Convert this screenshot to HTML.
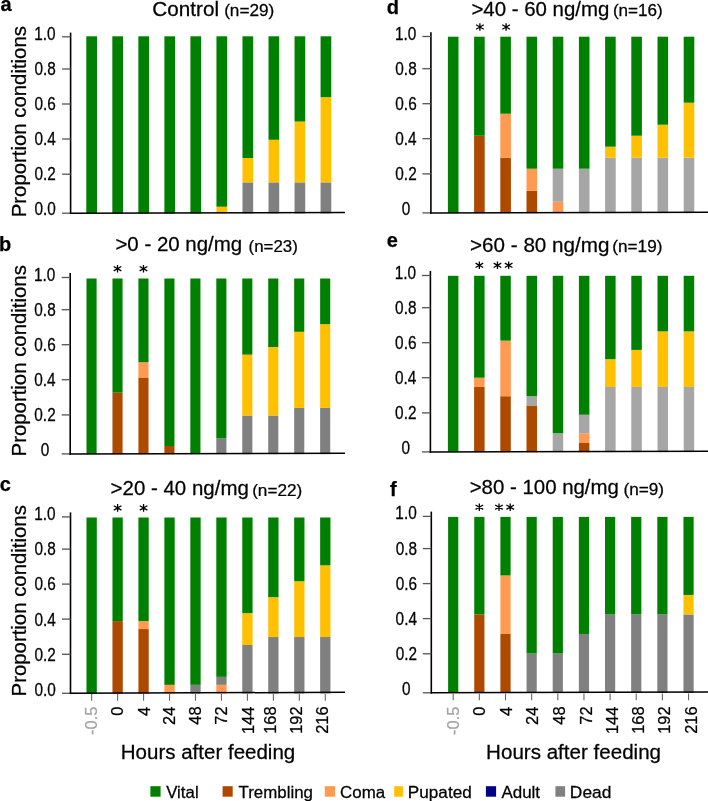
<!DOCTYPE html>
<html><head><meta charset="utf-8"><title>Proportion conditions</title>
<style>
html,body{margin:0;padding:0;background:#fff;}
body{width:708px;height:801px;overflow:hidden;}
svg{display:block;font-family:"Liberation Sans", sans-serif;will-change:transform;}
text{stroke:currentColor;stroke-width:0.25px;}
</style></head>
<body>
<svg width="708" height="801" viewBox="0 0 708 801" fill="#000" color="#000">
<path d="M70.6 32.6V214" stroke="#000" stroke-width="1.6" fill="none"/>
<path d="M62.1 36.8H70.6" stroke="#555" stroke-width="1.3" fill="none"/>
<path d="M62.1 69H70.6" stroke="#555" stroke-width="1.3" fill="none"/>
<path d="M62.1 104H70.6" stroke="#555" stroke-width="1.3" fill="none"/>
<path d="M62.1 139H70.6" stroke="#555" stroke-width="1.3" fill="none"/>
<path d="M62.1 174.2H70.6" stroke="#555" stroke-width="1.3" fill="none"/>
<path d="M62.1 213.2H70.6" stroke="#555" stroke-width="1.3" fill="none"/>
<rect x="86.3" y="36.3" width="10.7" height="177.1" fill="#008000"/>
<rect x="112.33" y="36.3" width="10.7" height="177.1" fill="#008000"/>
<rect x="138.36" y="36.3" width="10.7" height="177.1" fill="#008000"/>
<rect x="164.39" y="36.3" width="10.7" height="177.1" fill="#008000"/>
<rect x="190.42" y="36.3" width="10.7" height="177.1" fill="#008000"/>
<rect x="216.45" y="206.714" width="10.7" height="6.686" fill="#FFC000"/>
<rect x="216.45" y="36.3" width="10.7" height="170.414" fill="#008000"/>
<rect x="242.48" y="182.369" width="10.7" height="31.031" fill="#808080"/>
<rect x="242.48" y="158.024" width="10.7" height="24.345" fill="#FFC000"/>
<rect x="242.48" y="36.3" width="10.7" height="121.724" fill="#008000"/>
<rect x="268.51" y="182.369" width="10.7" height="31.031" fill="#808080"/>
<rect x="268.51" y="139.766" width="10.7" height="42.603" fill="#FFC000"/>
<rect x="268.51" y="36.3" width="10.7" height="103.466" fill="#008000"/>
<rect x="294.54" y="182.369" width="10.7" height="31.031" fill="#808080"/>
<rect x="294.54" y="121.507" width="10.7" height="60.862" fill="#FFC000"/>
<rect x="294.54" y="36.3" width="10.7" height="85.207" fill="#008000"/>
<rect x="320.57" y="182.369" width="10.7" height="31.031" fill="#808080"/>
<rect x="320.57" y="97.162" width="10.7" height="85.207" fill="#FFC000"/>
<rect x="320.57" y="36.3" width="10.7" height="60.862" fill="#008000"/>
<path d="M69.8 213.2L345 212.5" stroke="#000" stroke-width="1.5" fill="none"/>
<path d="M70.2 273.1V454.7" stroke="#000" stroke-width="1.6" fill="none"/>
<path d="M61.7 277.5H70.2" stroke="#555" stroke-width="1.3" fill="none"/>
<path d="M61.7 309.7H70.2" stroke="#555" stroke-width="1.3" fill="none"/>
<path d="M61.7 344.7H70.2" stroke="#555" stroke-width="1.3" fill="none"/>
<path d="M61.7 379.7H70.2" stroke="#555" stroke-width="1.3" fill="none"/>
<path d="M61.7 414.9H70.2" stroke="#555" stroke-width="1.3" fill="none"/>
<path d="M61.7 453.9H70.2" stroke="#555" stroke-width="1.3" fill="none"/>
<rect x="86.5" y="278.5" width="10.1" height="175.6" fill="#008000"/>
<rect x="112.46" y="392.696" width="10.1" height="61.404" fill="#AD4A00"/>
<rect x="112.46" y="278.5" width="10.1" height="114.196" fill="#008000"/>
<rect x="138.42" y="377.47" width="10.1" height="76.63" fill="#AD4A00"/>
<rect x="138.42" y="362.243" width="10.1" height="15.226" fill="#FF9A50"/>
<rect x="138.42" y="278.5" width="10.1" height="83.743" fill="#008000"/>
<rect x="164.38" y="445.987" width="10.1" height="8.113" fill="#AD4A00"/>
<rect x="164.38" y="278.5" width="10.1" height="167.487" fill="#008000"/>
<rect x="190.34" y="278.5" width="10.1" height="175.6" fill="#008000"/>
<rect x="216.3" y="438.374" width="10.1" height="15.726" fill="#808080"/>
<rect x="216.3" y="278.5" width="10.1" height="159.874" fill="#008000"/>
<rect x="242.26" y="415.535" width="10.1" height="38.565" fill="#808080"/>
<rect x="242.26" y="354.63" width="10.1" height="60.904" fill="#FFC000"/>
<rect x="242.26" y="278.5" width="10.1" height="76.13" fill="#008000"/>
<rect x="268.22" y="415.535" width="10.1" height="38.565" fill="#808080"/>
<rect x="268.22" y="347.017" width="10.1" height="68.517" fill="#FFC000"/>
<rect x="268.22" y="278.5" width="10.1" height="68.517" fill="#008000"/>
<rect x="294.18" y="407.922" width="10.1" height="46.178" fill="#808080"/>
<rect x="294.18" y="331.791" width="10.1" height="76.13" fill="#FFC000"/>
<rect x="294.18" y="278.5" width="10.1" height="53.291" fill="#008000"/>
<rect x="320.14" y="407.922" width="10.1" height="46.178" fill="#808080"/>
<rect x="320.14" y="324.178" width="10.1" height="83.743" fill="#FFC000"/>
<rect x="320.14" y="278.5" width="10.1" height="45.678" fill="#008000"/>
<path d="M69.4 453.9L345 453.2" stroke="#000" stroke-width="1.5" fill="none"/>
<path d="M117.51 272.5L117.51 264.9M113.699 270.9L121.321 266.5M113.699 266.5L121.321 270.9" stroke="#000" stroke-width="1.3" fill="none"/>
<path d="M143.47 272.5L143.47 264.9M139.659 270.9L147.281 266.5M139.659 266.5L147.281 270.9" stroke="#000" stroke-width="1.3" fill="none"/>
<path d="M70.5 512.4V694.1" stroke="#000" stroke-width="1.6" fill="none"/>
<path d="M62 516.9H70.5" stroke="#555" stroke-width="1.3" fill="none"/>
<path d="M62 549.1H70.5" stroke="#555" stroke-width="1.3" fill="none"/>
<path d="M62 584.1H70.5" stroke="#555" stroke-width="1.3" fill="none"/>
<path d="M62 619.1H70.5" stroke="#555" stroke-width="1.3" fill="none"/>
<path d="M62 654.3H70.5" stroke="#555" stroke-width="1.3" fill="none"/>
<path d="M62 693.3H70.5" stroke="#555" stroke-width="1.3" fill="none"/>
<rect x="86.5" y="517.5" width="10.3" height="176" fill="#008000"/>
<rect x="112.46" y="621.086" width="10.3" height="72.414" fill="#AD4A00"/>
<rect x="112.46" y="517.5" width="10.3" height="103.586" fill="#008000"/>
<rect x="138.42" y="629.055" width="10.3" height="64.445" fill="#AD4A00"/>
<rect x="138.42" y="621.086" width="10.3" height="7.968" fill="#FF9A50"/>
<rect x="138.42" y="517.5" width="10.3" height="103.586" fill="#008000"/>
<rect x="164.38" y="684.832" width="10.3" height="8.668" fill="#FF9A50"/>
<rect x="164.38" y="517.5" width="10.3" height="167.332" fill="#008000"/>
<rect x="190.34" y="684.832" width="10.3" height="8.668" fill="#808080"/>
<rect x="190.34" y="517.5" width="10.3" height="167.332" fill="#008000"/>
<rect x="216.3" y="684.832" width="10.3" height="8.668" fill="#FF9A50"/>
<rect x="216.3" y="676.864" width="10.3" height="7.968" fill="#808080"/>
<rect x="216.3" y="517.5" width="10.3" height="159.364" fill="#008000"/>
<rect x="242.26" y="644.991" width="10.3" height="48.509" fill="#808080"/>
<rect x="242.26" y="613.118" width="10.3" height="31.873" fill="#FFC000"/>
<rect x="242.26" y="517.5" width="10.3" height="95.618" fill="#008000"/>
<rect x="268.22" y="637.023" width="10.3" height="56.477" fill="#808080"/>
<rect x="268.22" y="597.182" width="10.3" height="39.841" fill="#FFC000"/>
<rect x="268.22" y="517.5" width="10.3" height="79.682" fill="#008000"/>
<rect x="294.18" y="637.023" width="10.3" height="56.477" fill="#808080"/>
<rect x="294.18" y="581.245" width="10.3" height="55.777" fill="#FFC000"/>
<rect x="294.18" y="517.5" width="10.3" height="63.745" fill="#008000"/>
<rect x="320.14" y="637.023" width="10.3" height="56.477" fill="#808080"/>
<rect x="320.14" y="565.309" width="10.3" height="71.714" fill="#FFC000"/>
<rect x="320.14" y="517.5" width="10.3" height="47.809" fill="#008000"/>
<path d="M69.7 693.3L345 692.3" stroke="#000" stroke-width="1.5" fill="none"/>
<path d="M117.61 511.7L117.61 504.1M113.799 510.1L121.421 505.7M113.799 505.7L121.421 510.1" stroke="#000" stroke-width="1.3" fill="none"/>
<path d="M143.57 511.7L143.57 504.1M139.759 510.1L147.381 505.7M139.759 505.7L147.381 510.1" stroke="#000" stroke-width="1.3" fill="none"/>
<path d="M91.65 694V700.8" stroke="#666" stroke-width="1.1" fill="none"/>
<path d="M117.61 694V700.8" stroke="#666" stroke-width="1.1" fill="none"/>
<path d="M143.57 694V700.8" stroke="#666" stroke-width="1.1" fill="none"/>
<path d="M169.53 694V700.8" stroke="#666" stroke-width="1.1" fill="none"/>
<path d="M195.49 694V700.8" stroke="#666" stroke-width="1.1" fill="none"/>
<path d="M221.45 694V700.8" stroke="#666" stroke-width="1.1" fill="none"/>
<path d="M247.41 694V700.8" stroke="#666" stroke-width="1.1" fill="none"/>
<path d="M273.37 694V700.8" stroke="#666" stroke-width="1.1" fill="none"/>
<path d="M299.33 694V700.8" stroke="#666" stroke-width="1.1" fill="none"/>
<path d="M325.29 694V700.8" stroke="#666" stroke-width="1.1" fill="none"/>
<path d="M430.9 32.2V213.7" stroke="#000" stroke-width="1.6" fill="none"/>
<path d="M422.4 36.5H430.9" stroke="#555" stroke-width="1.3" fill="none"/>
<path d="M422.4 68.7H430.9" stroke="#555" stroke-width="1.3" fill="none"/>
<path d="M422.4 103.7H430.9" stroke="#555" stroke-width="1.3" fill="none"/>
<path d="M422.4 138.7H430.9" stroke="#555" stroke-width="1.3" fill="none"/>
<path d="M422.4 173.9H430.9" stroke="#555" stroke-width="1.3" fill="none"/>
<path d="M422.4 212.9H430.9" stroke="#555" stroke-width="1.3" fill="none"/>
<rect x="447.9" y="36.7" width="10.6" height="176.4" fill="#008000"/>
<rect x="474.1" y="135.7" width="10.6" height="77.4" fill="#AD4A00"/>
<rect x="474.1" y="36.7" width="10.6" height="99" fill="#008000"/>
<rect x="500.3" y="157.7" width="10.6" height="55.4" fill="#AD4A00"/>
<rect x="500.3" y="113.7" width="10.6" height="44" fill="#FF9A50"/>
<rect x="500.3" y="36.7" width="10.6" height="77" fill="#008000"/>
<rect x="526.5" y="190.7" width="10.6" height="22.4" fill="#AD4A00"/>
<rect x="526.5" y="168.7" width="10.6" height="22" fill="#FF9A50"/>
<rect x="526.5" y="36.7" width="10.6" height="132" fill="#008000"/>
<rect x="552.7" y="201.7" width="10.6" height="11.4" fill="#FF9A50"/>
<rect x="552.7" y="168.7" width="10.6" height="33" fill="#A6A6A6"/>
<rect x="552.7" y="36.7" width="10.6" height="132" fill="#008000"/>
<rect x="578.9" y="168.7" width="10.6" height="44.4" fill="#A6A6A6"/>
<rect x="578.9" y="36.7" width="10.6" height="132" fill="#008000"/>
<rect x="605.1" y="157.7" width="10.6" height="55.4" fill="#A6A6A6"/>
<rect x="605.1" y="146.7" width="10.6" height="11" fill="#FFC000"/>
<rect x="605.1" y="36.7" width="10.6" height="110" fill="#008000"/>
<rect x="631.3" y="157.7" width="10.6" height="55.4" fill="#A6A6A6"/>
<rect x="631.3" y="135.7" width="10.6" height="22" fill="#FFC000"/>
<rect x="631.3" y="36.7" width="10.6" height="99" fill="#008000"/>
<rect x="657.5" y="157.7" width="10.6" height="55.4" fill="#A6A6A6"/>
<rect x="657.5" y="124.7" width="10.6" height="33" fill="#FFC000"/>
<rect x="657.5" y="36.7" width="10.6" height="88" fill="#008000"/>
<rect x="683.7" y="157.7" width="10.6" height="55.4" fill="#A6A6A6"/>
<rect x="683.7" y="102.7" width="10.6" height="55" fill="#FFC000"/>
<rect x="683.7" y="36.7" width="10.6" height="66" fill="#008000"/>
<path d="M430.1 212.9L708 212.2" stroke="#000" stroke-width="1.5" fill="none"/>
<path d="M479.9 30.8L479.9 23.2M476.089 29.2L483.711 24.8M476.089 24.8L483.711 29.2" stroke="#000" stroke-width="1.3" fill="none"/>
<path d="M506.1 30.8L506.1 23.2M502.289 29.2L509.911 24.8M502.289 24.8L509.911 29.2" stroke="#000" stroke-width="1.3" fill="none"/>
<path d="M430.4 270.9V452.7" stroke="#000" stroke-width="1.6" fill="none"/>
<path d="M421.9 275.5H430.4" stroke="#555" stroke-width="1.3" fill="none"/>
<path d="M421.9 307.7H430.4" stroke="#555" stroke-width="1.3" fill="none"/>
<path d="M421.9 342.7H430.4" stroke="#555" stroke-width="1.3" fill="none"/>
<path d="M421.9 377.7H430.4" stroke="#555" stroke-width="1.3" fill="none"/>
<path d="M421.9 412.9H430.4" stroke="#555" stroke-width="1.3" fill="none"/>
<path d="M421.9 451.9H430.4" stroke="#555" stroke-width="1.3" fill="none"/>
<rect x="447.9" y="275.8" width="10.5" height="176.3" fill="#008000"/>
<rect x="474.1" y="386.958" width="10.5" height="65.142" fill="#AD4A00"/>
<rect x="474.1" y="377.695" width="10.5" height="9.263" fill="#FF9A50"/>
<rect x="474.1" y="275.8" width="10.5" height="101.895" fill="#008000"/>
<rect x="500.3" y="396.221" width="10.5" height="55.879" fill="#AD4A00"/>
<rect x="500.3" y="340.642" width="10.5" height="55.579" fill="#FF9A50"/>
<rect x="500.3" y="275.8" width="10.5" height="64.842" fill="#008000"/>
<rect x="526.5" y="405.484" width="10.5" height="46.616" fill="#AD4A00"/>
<rect x="526.5" y="396.221" width="10.5" height="9.263" fill="#A6A6A6"/>
<rect x="526.5" y="275.8" width="10.5" height="120.421" fill="#008000"/>
<rect x="552.7" y="433.274" width="10.5" height="18.826" fill="#A6A6A6"/>
<rect x="552.7" y="275.8" width="10.5" height="157.474" fill="#008000"/>
<rect x="578.9" y="442.537" width="10.5" height="9.563" fill="#AD4A00"/>
<rect x="578.9" y="433.274" width="10.5" height="9.263" fill="#FF9A50"/>
<rect x="578.9" y="414.747" width="10.5" height="18.526" fill="#A6A6A6"/>
<rect x="578.9" y="275.8" width="10.5" height="138.947" fill="#008000"/>
<rect x="605.1" y="386.958" width="10.5" height="65.142" fill="#A6A6A6"/>
<rect x="605.1" y="359.168" width="10.5" height="27.789" fill="#FFC000"/>
<rect x="605.1" y="275.8" width="10.5" height="83.368" fill="#008000"/>
<rect x="631.3" y="386.958" width="10.5" height="65.142" fill="#A6A6A6"/>
<rect x="631.3" y="349.905" width="10.5" height="37.053" fill="#FFC000"/>
<rect x="631.3" y="275.8" width="10.5" height="74.105" fill="#008000"/>
<rect x="657.5" y="386.958" width="10.5" height="65.142" fill="#A6A6A6"/>
<rect x="657.5" y="331.379" width="10.5" height="55.579" fill="#FFC000"/>
<rect x="657.5" y="275.8" width="10.5" height="55.579" fill="#008000"/>
<rect x="683.7" y="386.958" width="10.5" height="65.142" fill="#A6A6A6"/>
<rect x="683.7" y="331.379" width="10.5" height="55.579" fill="#FFC000"/>
<rect x="683.7" y="275.8" width="10.5" height="55.579" fill="#008000"/>
<path d="M429.6 451.9L708 451.2" stroke="#000" stroke-width="1.5" fill="none"/>
<path d="M479.35 269.1L479.35 261.5M475.539 267.5L483.161 263.1M475.539 263.1L483.161 267.5" stroke="#000" stroke-width="1.3" fill="none"/>
<path d="M497.45 269.1L497.45 261.5M493.639 267.5L501.261 263.1M493.639 263.1L501.261 267.5" stroke="#000" stroke-width="1.3" fill="none"/>
<path d="M508.65 269.1L508.65 261.5M504.839 267.5L512.461 263.1M504.839 263.1L512.461 267.5" stroke="#000" stroke-width="1.3" fill="none"/>
<path d="M431.3 511.6V693.6" stroke="#000" stroke-width="1.6" fill="none"/>
<path d="M422.8 516.4H431.3" stroke="#555" stroke-width="1.3" fill="none"/>
<path d="M422.8 548.6H431.3" stroke="#555" stroke-width="1.3" fill="none"/>
<path d="M422.8 583.6H431.3" stroke="#555" stroke-width="1.3" fill="none"/>
<path d="M422.8 618.6H431.3" stroke="#555" stroke-width="1.3" fill="none"/>
<path d="M422.8 653.8H431.3" stroke="#555" stroke-width="1.3" fill="none"/>
<path d="M422.8 692.8H431.3" stroke="#555" stroke-width="1.3" fill="none"/>
<rect x="448.1" y="516.9" width="10.2" height="176.1" fill="#008000"/>
<rect x="474.25" y="614.456" width="10.2" height="78.544" fill="#AD4A00"/>
<rect x="474.25" y="516.9" width="10.2" height="97.556" fill="#008000"/>
<rect x="500.4" y="633.967" width="10.2" height="59.033" fill="#AD4A00"/>
<rect x="500.4" y="575.433" width="10.2" height="58.533" fill="#FF9A50"/>
<rect x="500.4" y="516.9" width="10.2" height="58.533" fill="#008000"/>
<rect x="526.55" y="653.478" width="10.2" height="39.522" fill="#808080"/>
<rect x="526.55" y="516.9" width="10.2" height="136.578" fill="#008000"/>
<rect x="552.7" y="653.478" width="10.2" height="39.522" fill="#808080"/>
<rect x="552.7" y="516.9" width="10.2" height="136.578" fill="#008000"/>
<rect x="578.85" y="633.967" width="10.2" height="59.033" fill="#808080"/>
<rect x="578.85" y="516.9" width="10.2" height="117.067" fill="#008000"/>
<rect x="605" y="614.456" width="10.2" height="78.544" fill="#808080"/>
<rect x="605" y="516.9" width="10.2" height="97.556" fill="#008000"/>
<rect x="631.15" y="614.456" width="10.2" height="78.544" fill="#808080"/>
<rect x="631.15" y="516.9" width="10.2" height="97.556" fill="#008000"/>
<rect x="657.3" y="614.456" width="10.2" height="78.544" fill="#808080"/>
<rect x="657.3" y="516.9" width="10.2" height="97.556" fill="#008000"/>
<rect x="683.45" y="614.456" width="10.2" height="78.544" fill="#808080"/>
<rect x="683.45" y="594.944" width="10.2" height="19.511" fill="#FFC000"/>
<rect x="683.45" y="516.9" width="10.2" height="78.044" fill="#008000"/>
<path d="M430.5 692.8L708 692.1" stroke="#000" stroke-width="1.5" fill="none"/>
<path d="M479.35 511L479.35 503.4M475.539 509.4L483.161 505M475.539 505L483.161 509.4" stroke="#000" stroke-width="1.3" fill="none"/>
<path d="M499 511L499 503.4M495.189 509.4L502.811 505M495.189 505L502.811 509.4" stroke="#000" stroke-width="1.3" fill="none"/>
<path d="M510.2 511L510.2 503.4M506.389 509.4L514.011 505M506.389 505L514.011 509.4" stroke="#000" stroke-width="1.3" fill="none"/>
<path d="M453.2 693.5V700.3" stroke="#666" stroke-width="1.1" fill="none"/>
<path d="M479.35 693.5V700.3" stroke="#666" stroke-width="1.1" fill="none"/>
<path d="M505.5 693.5V700.3" stroke="#666" stroke-width="1.1" fill="none"/>
<path d="M531.65 693.5V700.3" stroke="#666" stroke-width="1.1" fill="none"/>
<path d="M557.8 693.5V700.3" stroke="#666" stroke-width="1.1" fill="none"/>
<path d="M583.95 693.5V700.3" stroke="#666" stroke-width="1.1" fill="none"/>
<path d="M610.1 693.5V700.3" stroke="#666" stroke-width="1.1" fill="none"/>
<path d="M636.25 693.5V700.3" stroke="#666" stroke-width="1.1" fill="none"/>
<path d="M662.4 693.5V700.3" stroke="#666" stroke-width="1.1" fill="none"/>
<path d="M688.55 693.5V700.3" stroke="#666" stroke-width="1.1" fill="none"/>
<rect x="150.4" y="786.2" width="10.2" height="10.5" fill="#008000"/>
<rect x="222.6" y="786.2" width="10.1" height="10.5" fill="#AD4A00"/>
<rect x="324.8" y="786.2" width="10.3" height="10.5" fill="#FF9A50"/>
<rect x="394.2" y="786.2" width="8.7" height="10.5" fill="#FFC000"/>
<rect x="485.9" y="786.2" width="10.2" height="10.5" fill="#000088"/>
<rect x="555.4" y="786.2" width="9.7" height="10.5" fill="#808080"/>
<text transform="translate(152.366 16) scale(1.034 1.01)" font-size="20">Control</text>
<text transform="translate(224.125 15.919) scale(1.075 1.071)" font-size="16">(n=29)</text>
<text transform="translate(115.377 251.2) scale(1.023 1.01)" font-size="20">&gt;0 - 20 ng/mg</text>
<text transform="translate(248.545 251.961) scale(1.055 0.997)" font-size="16">(n=23)</text>
<text transform="translate(110.576 494.6) scale(1.024 1.01)" font-size="20">&gt;20 - 40 ng/mg</text>
<text transform="translate(252.125 495.661) scale(1.075 0.997)" font-size="16">(n=22)</text>
<text transform="translate(471.378 15.75) scale(1.022 1.01)" font-size="20">&gt;40 - 60 ng/mg</text>
<text transform="translate(612.932 16.117) scale(1.068 1.01)" font-size="16">(n=16)</text>
<text transform="translate(470.068 251.75) scale(1.032 1.01)" font-size="20">&gt;60 - 80 ng/mg</text>
<text transform="translate(612.327 252.063) scale(1.073 1.058)" font-size="16">(n=19)</text>
<text transform="translate(469.679 494.45) scale(1.021 1.01)" font-size="20">&gt;80 - 100 ng/mg</text>
<text transform="translate(623.426 495.295) scale(1.074 1.017)" font-size="16">(n=9)</text>
<text transform="translate(0.6 10.6)" font-size="20" font-weight="bold">a</text>
<text transform="translate(-1.1 251)" font-size="20" font-weight="bold">b</text>
<text transform="translate(-0.3 491.2)" font-size="20" font-weight="bold">c</text>
<text transform="translate(386.65 14.4)" font-size="20" font-weight="bold">d</text>
<text transform="translate(386.85 247.4)" font-size="20" font-weight="bold">e</text>
<text transform="translate(389.95 495.6)" font-size="20" font-weight="bold">f</text>
<text transform="translate(25.743 217.281) rotate(-90) scale(1.018 0.989)" font-size="20">Proportion conditions</text>
<text transform="translate(25.743 456.381) rotate(-90) scale(1.018 0.989)" font-size="20">Proportion conditions</text>
<text transform="translate(25.743 696.381) rotate(-90) scale(1.018 0.989)" font-size="20">Proportion conditions</text>
<text transform="translate(120.805 759.157) scale(1.026 1.011)" font-size="20">Hours after feeding</text>
<text transform="translate(486.1 759.135) scale(1.029 1.016)" font-size="20">Hours after feeding</text>
<text transform="translate(166.2 797.5) scale(1.052 1.07)" font-size="16">Vital</text>
<text transform="translate(238.536 797.5) scale(1.056 1.07)" font-size="16">Trembling</text>
<text transform="translate(340.107 797.5) scale(1.057 1.07)" font-size="16">Coma</text>
<text transform="translate(407.859 797.5) scale(1.072 1.07)" font-size="16">Pupated</text>
<text transform="translate(501.4 797.5) scale(1.062 1.07)" font-size="16">Adult</text>
<text transform="translate(569.842 797.5) scale(1.086 1.07)" font-size="16">Dead</text>
<text transform="translate(34.16 39.92) scale(0.96 1.14)" font-size="16">1.0</text>
<text transform="translate(34.52 75) scale(0.96 1.14)" font-size="16">0.8</text>
<text transform="translate(34.52 110.08) scale(0.96 1.14)" font-size="16">0.6</text>
<text transform="translate(34.4 145.16) scale(0.96 1.14)" font-size="16">0.4</text>
<text transform="translate(34.52 180.24) scale(0.96 1.14)" font-size="16">0.2</text>
<text transform="translate(34.4 215.32) scale(0.96 1.14)" font-size="16">0.0</text>
<text transform="translate(33.96 281.07) scale(0.96 1.14)" font-size="16">1.0</text>
<text transform="translate(34.32 316.15) scale(0.96 1.14)" font-size="16">0.8</text>
<text transform="translate(34.32 351.23) scale(0.96 1.14)" font-size="16">0.6</text>
<text transform="translate(34.2 386.31) scale(0.96 1.14)" font-size="16">0.4</text>
<text transform="translate(34.32 421.39) scale(0.96 1.14)" font-size="16">0.2</text>
<text transform="translate(40.68 456.47) scale(0.96 1.14)" font-size="16">0</text>
<text transform="translate(34.16 520.27) scale(0.96 1.14)" font-size="16">1.0</text>
<text transform="translate(34.52 555.35) scale(0.96 1.14)" font-size="16">0.8</text>
<text transform="translate(34.52 590.43) scale(0.96 1.14)" font-size="16">0.6</text>
<text transform="translate(34.4 625.51) scale(0.96 1.14)" font-size="16">0.4</text>
<text transform="translate(34.52 660.59) scale(0.96 1.14)" font-size="16">0.2</text>
<text transform="translate(34.4 695.67) scale(0.96 1.14)" font-size="16">0.0</text>
<text transform="translate(394.96 39.77) scale(0.96 1.14)" font-size="16">1.0</text>
<text transform="translate(395.32 74.85) scale(0.96 1.14)" font-size="16">0.8</text>
<text transform="translate(395.32 109.93) scale(0.96 1.14)" font-size="16">0.6</text>
<text transform="translate(395.2 145.01) scale(0.96 1.14)" font-size="16">0.4</text>
<text transform="translate(395.32 180.09) scale(0.96 1.14)" font-size="16">0.2</text>
<text transform="translate(401.68 215.17) scale(0.96 1.14)" font-size="16">0</text>
<text transform="translate(394.76 278.77) scale(0.96 1.14)" font-size="16">1.0</text>
<text transform="translate(395.12 313.85) scale(0.96 1.14)" font-size="16">0.8</text>
<text transform="translate(395.12 348.93) scale(0.96 1.14)" font-size="16">0.6</text>
<text transform="translate(395 384.01) scale(0.96 1.14)" font-size="16">0.4</text>
<text transform="translate(395.12 419.09) scale(0.96 1.14)" font-size="16">0.2</text>
<text transform="translate(401.48 454.17) scale(0.96 1.14)" font-size="16">0</text>
<text transform="translate(395.36 519.47) scale(0.96 1.14)" font-size="16">1.0</text>
<text transform="translate(395.72 554.55) scale(0.96 1.14)" font-size="16">0.8</text>
<text transform="translate(395.72 589.63) scale(0.96 1.14)" font-size="16">0.6</text>
<text transform="translate(395.6 624.71) scale(0.96 1.14)" font-size="16">0.4</text>
<text transform="translate(395.72 659.79) scale(0.96 1.14)" font-size="16">0.2</text>
<text transform="translate(402.08 694.87) scale(0.96 1.14)" font-size="16">0</text>
<text transform="translate(97.165 734.875) rotate(-90) scale(1.025 1.03)" font-size="16" fill="#a3a3a3" color="#a3a3a3">-0.5</text>
<text transform="translate(122.865 715.656) rotate(-90) scale(1.025 1.03)" font-size="16">0</text>
<text transform="translate(149.765 715.913) rotate(-90) scale(1.025 1.03)" font-size="16">4</text>
<text transform="translate(174.994 724.881) rotate(-90) scale(1.025 1.03)" font-size="16">24</text>
<text transform="translate(201.365 724.625) rotate(-90) scale(1.025 1.03)" font-size="16">48</text>
<text transform="translate(227.494 724.625) rotate(-90) scale(1.025 1.03)" font-size="16">72</text>
<text transform="translate(254.465 734.106) rotate(-90) scale(1.025 1.03)" font-size="16">144</text>
<text transform="translate(276.365 733.85) rotate(-90) scale(1.025 1.03)" font-size="16">168</text>
<text transform="translate(302.065 733.85) rotate(-90) scale(1.025 1.03)" font-size="16">192</text>
<text transform="translate(328.265 733.85) rotate(-90) scale(1.025 1.03)" font-size="16">216</text>
<text transform="translate(458.965 734.875) rotate(-90) scale(1.025 1.03)" font-size="16" fill="#a3a3a3" color="#a3a3a3">-0.5</text>
<text transform="translate(485.465 715.656) rotate(-90) scale(1.025 1.03)" font-size="16">0</text>
<text transform="translate(512.165 715.913) rotate(-90) scale(1.025 1.03)" font-size="16">4</text>
<text transform="translate(538.494 724.881) rotate(-90) scale(1.025 1.03)" font-size="16">24</text>
<text transform="translate(564.965 724.625) rotate(-90) scale(1.025 1.03)" font-size="16">48</text>
<text transform="translate(592.094 724.625) rotate(-90) scale(1.025 1.03)" font-size="16">72</text>
<text transform="translate(618.065 734.106) rotate(-90) scale(1.025 1.03)" font-size="16">144</text>
<text transform="translate(644.365 733.85) rotate(-90) scale(1.025 1.03)" font-size="16">168</text>
<text transform="translate(670.065 733.85) rotate(-90) scale(1.025 1.03)" font-size="16">192</text>
<text transform="translate(696.665 733.85) rotate(-90) scale(1.025 1.03)" font-size="16">216</text>
</svg>
</body></html>
